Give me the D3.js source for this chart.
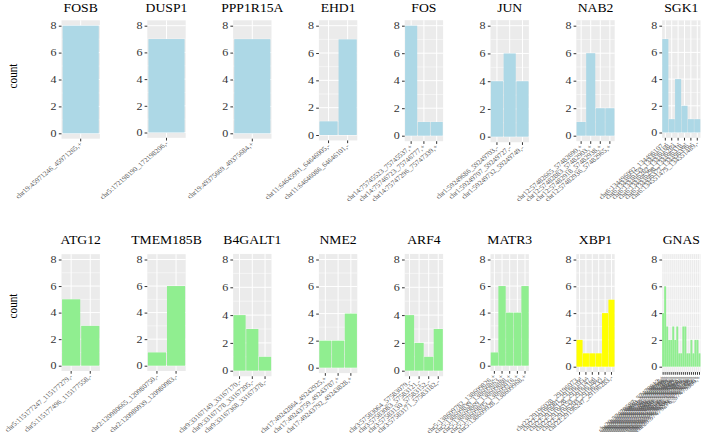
<!DOCTYPE html>
<html>
<head>
<meta charset="utf-8">
<script src="https://cdn.jsdelivr.net/npm/d3@7"></script>
<style>
  html, body { margin: 0; padding: 0; background: #ffffff; }
  svg { display: block; }
</style>
</head>
<body>
<svg id="chart" width="704" height="443" font-family="Liberation Serif"></svg>
<script>
// ---------------- DATA ----------------
const genesTop = ["FOSB", "DUSP1", "PPP1R15A", "EHD1", "FOS", "JUN", "NAB2", "SGK1"];
const genesBottom = ["ATG12", "TMEM185B", "B4GALT1", "NME2", "ARF4", "MATR3", "XBP1", "GNAS"];

const countsFOSB = [8];
const countsDUSP1 = [7];
const countsPPP1R15A = [7];
const countsEHD1 = [1, 7];
const countsFOS = [8, 1, 1];
const countsJUN = [4, 6, 4];
const countsNAB2 = [1, 6, 2, 2];
const countsSGK1 = [7, 1, 4, 2, 1, 1];
const countsATG12 = [5, 3];
const countsTMEM185B = [1, 6];
const countsB4GALT1 = [4, 3, 1];
const countsNME2 = [2, 2, 4];
const countsARF4 = [4, 2, 1, 3];
const countsMATR3 = [1, 6, 4, 4, 6];
const countsXBP1 = [2, 1, 1, 1, 4, 5];
const countsGNAS = [4, 6, 3, 2, 2, 3, 2, 3, 1, 1, 3, 3, 1, 1, 2, 1, 2, 2, 1];

const sitesFOSB = ["chr19:45971246_45971265,+"];
const sitesDUSP1 = ["chr5:172198190_172198206,-"];
const sitesPPP1R15A = ["chr19:49375669_49375684,+"];
const sitesEHD1 = ["chr11:64645991_64646005,-", "chr11:64646086_64646101,-"];
const sitesFOS = ["chr14:75745523_75745537,+", "chr14:75746723_75746777,+", "chr14:75747296_75747339,+"];
const sitesJUN = ["chr1:59249686_59249703,-", "chr1:59249707_59249727,-", "chr1:59249732_59249749,-"];
const sitesNAB2 = ["chr12:57482665_57482690,+", "chr12:57482883_57482903,+", "chr12:57482918_57482938,+", "chr12:57482936_57482965,+"];
const sitesSGK1 = ["chr6:134496092_134496107,-", "chr6:134496153_134496168,-", "chr6:134496262_134496284,-", "chr6:134496298_134496318,-", "chr6:134496377_134496396,-", "chr6:134551475_134551489,-"];
const sitesATG12 = ["chr5:115177247_115177279,-", "chr5:115177496_115177558,-"];
const sitesTMEM185B = ["chr2:120980665_120980750,-", "chr2:120980939_120980983,-"];
const sitesB4GALT1 = ["chr9:33167149_33167170,-", "chr9:33167178_33167205,-", "chr9:33167368_33167378,-"];
const sitesNME2 = ["chr17:49242864_49242925,+", "chr17:49243759_49243787,+", "chr17:49243792_49243828,+"];
const sitesARF4 = ["chr3:57583064_57583079,-", "chr3:57583083_57583121,-", "chr3:57583130_57583152,-", "chr3:57583171_57583182,-"];
const sitesMATR3 = ["chr5:138609782_138609826,+", "chr5:138609839_138609863,+", "chr5:138609869_138609888,+", "chr5:138609895_138609916,+", "chr5:138609928_138609968,+"];
const sitesXBP1 = ["chr22:29196028_29196073,-", "chr22:29196081_29196105,-", "chr22:29196128_29196147,-", "chr22:29196153_29196188,-", "chr22:29196203_29196232,-", "chr22:29196247_29196283,-"];
const sitesGNAS = ["chr20:57478587_57478612,+", "chr20:57478633_57478655,+", "chr20:57478671_57478700,+", "chr20:57478712_57478739,+", "chr20:57478752_57478780,+", "chr20:57478791_57478815,+", "chr20:57478828_57478850,+", "chr20:57478866_57478889,+", "chr20:57478902_57478925,+", "chr20:57478940_57478962,+", "chr20:57478977_57479001,+", "chr20:57479015_57479038,+", "chr20:57479052_57479076,+", "chr20:57479090_57479113,+", "chr20:57479127_57479150,+", "chr20:57479164_57479188,+", "chr20:57479201_57479225,+", "chr20:57479239_57479262,+", "chr20:57479276_57479300,+"];

const yTicks = [0, 2, 4, 6, 8];
const yMinorTicks = [1, 3, 5, 7];

const fillTop = "#ADD8E6";
const fillBottom = "#90EE90";
const fillHighlight = "#FFFF00";

// ---------------- LAYOUT ----------------
const panelW = 38.4;
const firstLeft = 61.5;
const panelStep = 85.8;
const rowEightY = [25.7, 259.5];
const rowZeroY = [
  [133.3, 132.5, 133.3, 135.0, 135.7, 136.7, 135.7, 132.5],
  [365.7, 365.7, 370.7, 367.7, 370.7, 365.7, 366.7, 366.7]
];
const rowTitleY = [11.8, 243.5];
const rowCountY = [76, 306];
const SX = 1.18; // horizontal stretch of the source picture's text

const countsByGene = {
  FOSB: countsFOSB, DUSP1: countsDUSP1, PPP1R15A: countsPPP1R15A, EHD1: countsEHD1,
  FOS: countsFOS, JUN: countsJUN, NAB2: countsNAB2, SGK1: countsSGK1,
  ATG12: countsATG12, TMEM185B: countsTMEM185B, B4GALT1: countsB4GALT1, NME2: countsNME2,
  ARF4: countsARF4, MATR3: countsMATR3, XBP1: countsXBP1, GNAS: countsGNAS
};
const sitesByGene = {
  FOSB: sitesFOSB, DUSP1: sitesDUSP1, PPP1R15A: sitesPPP1R15A, EHD1: sitesEHD1,
  FOS: sitesFOS, JUN: sitesJUN, NAB2: sitesNAB2, SGK1: sitesSGK1,
  ATG12: sitesATG12, TMEM185B: sitesTMEM185B, B4GALT1: sitesB4GALT1, NME2: sitesNME2,
  ARF4: sitesARF4, MATR3: sitesMATR3, XBP1: sitesXBP1, GNAS: sitesGNAS
};

const FONT = "Liberation Serif";
const svg = d3.select("#chart");

function drawPanel(gene, row, col) {
  const counts = countsByGene[gene];
  const sites = sitesByGene[gene];
  const data = sites.map((s, i) => ({ site: s, n: counts[i] }));
  const left = firstLeft + col * panelStep;
  const zeroY = rowZeroY[row][col];
  const eightY = rowEightY[row];

  const y = d3.scaleLinear().domain([0, 8]).range([zeroY, eightY]);
  const top = y(8.4), bottom = y(-0.4);
  const x = d3.scaleBand().domain(sites).range([left, left + panelW])
    .paddingInner(0.05).paddingOuter(0.03);

  let fill = row === 0 ? fillTop : fillBottom;
  if (gene === "XBP1") fill = fillHighlight;

  const g = svg.append("g");

  g.append("rect").attr("x", left).attr("y", top).attr("width", panelW)
    .attr("height", bottom - top).attr("fill", "#EBEBEB");

  g.selectAll(".ymin").data(yMinorTicks).enter().append("line")
    .attr("x1", left).attr("x2", left + panelW)
    .attr("y1", d => y(d)).attr("y2", d => y(d))
    .attr("stroke", "#ffffff").attr("stroke-width", 0.5);
  g.selectAll(".ymaj").data(yTicks).enter().append("line")
    .attr("x1", left).attr("x2", left + panelW)
    .attr("y1", d => y(d)).attr("y2", d => y(d))
    .attr("stroke", "#ffffff").attr("stroke-width", 1);
  g.selectAll(".xmaj").data(sites).enter().append("line")
    .attr("x1", d => x(d) + x.bandwidth() / 2).attr("x2", d => x(d) + x.bandwidth() / 2)
    .attr("y1", top).attr("y2", bottom)
    .attr("stroke", "#ffffff").attr("stroke-width", sites.length > 12 ? 0.6 : 1);

  g.selectAll(".bar").data(data).enter().append("rect")
    .attr("x", d => x(d.site)).attr("width", x.bandwidth())
    .attr("y", d => y(d.n)).attr("height", d => y(0) - y(d.n))
    .attr("fill", fill);

  const yAxis = d3.axisLeft(y).tickValues(yTicks).tickSize(2.7).tickPadding(2.2)
    .tickFormat(d3.format("d"));
  const ya = g.append("g").attr("transform", `translate(${left},0)`).call(yAxis);
  ya.attr("font-family", FONT).attr("font-size", 10.2);
  ya.select(".domain").remove();
  ya.selectAll(".tick line").attr("stroke", "#333333").attr("stroke-width", 1);
  ya.selectAll(".tick text").attr("fill", "#333333")
    .attr("x", 0).attr("transform", `translate(-4.9,0) scale(${SX},1)`);

  const xAxis = d3.axisBottom(x).tickSize(2.7).tickPadding(0);
  const xa = g.append("g").attr("transform", `translate(0,${bottom})`).call(xAxis);
  xa.attr("font-family", FONT).attr("font-size", 6.5);
  xa.select(".domain").remove();
  xa.selectAll(".tick line").attr("stroke", "#333333").attr("stroke-width", 1);
  xa.selectAll(".tick text")
    .attr("fill", "#555555")
    .attr("text-anchor", "end")
    .attr("dy", 0).attr("y", 0)
    .attr("transform", `translate(2,6) scale(${SX},1) rotate(-45)`);

  svg.append("text")
    .attr("transform", `translate(${left + panelW / 2},${rowTitleY[row]}) scale(${SX},1)`)
    .attr("text-anchor", "middle").attr("fill", "#000")
    .attr("font-family", FONT).attr("font-size", 11.6)
    .text(gene);
}

genesTop.forEach((g, i) => drawPanel(g, 0, i));
genesBottom.forEach((g, i) => drawPanel(g, 1, i));

[0, 1].forEach(r => {
  svg.append("text")
    .attr("transform", `translate(17.3,${rowCountY[r]}) scale(${SX},1) rotate(-90)`)
    .attr("text-anchor", "middle").attr("fill", "#000")
    .attr("font-family", FONT).attr("font-size", 11.2)
    .text("count");
});
</script>
</body>
</html>
